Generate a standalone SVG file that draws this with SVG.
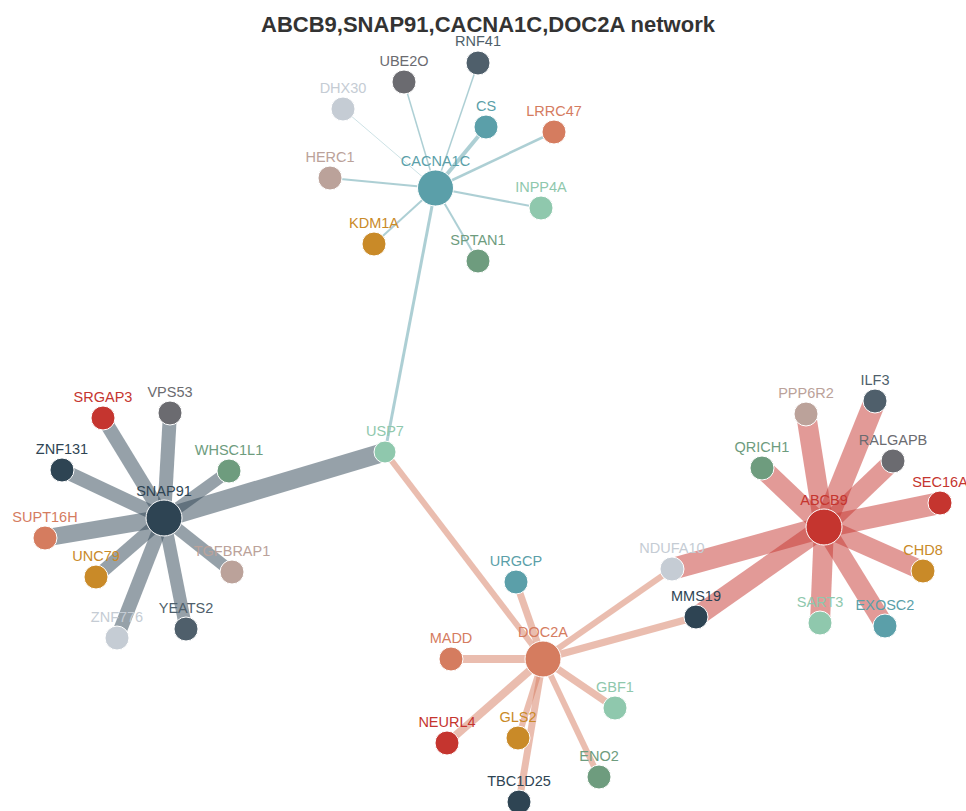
<svg xmlns="http://www.w3.org/2000/svg" width="966" height="811" viewBox="0 0 966 811">
<style>
.title{font-family:"Liberation Sans",Arial,sans-serif;font-weight:bold;font-size:22px;fill:#333333;text-anchor:middle}
line{stroke-opacity:0.5;stroke-linecap:butt}
.teal{fill:#5b9fa9;stroke:#5b9fa9}
.slate{fill:#4f5f6b;stroke:#4f5f6b}
.gray{fill:#6b6b70;stroke:#6b6b70}
.light{fill:#c5ccd4;stroke:#c5ccd4}
.orange{fill:#d57c5f;stroke:#d57c5f}
.tan{fill:#bba29a;stroke:#bba29a}
.mint{fill:#8fc8ad;stroke:#8fc8ad}
.gold{fill:#c98a28;stroke:#c98a28}
.green{fill:#6e9c7e;stroke:#6e9c7e}
.navy{fill:#2e4453;stroke:#2e4453}
.red{fill:#c5352f;stroke:#c5352f}
circle.n{stroke:#ffffff;stroke-width:1}
text.l{font-family:"Liberation Sans",Arial,sans-serif;font-size:14.5px;text-anchor:middle;stroke:none}
</style>
<rect width="966" height="811" fill="#ffffff"/>
<g id="connectors">
<line class="teal" x1="435.5" y1="188" x2="478" y2="63" stroke-width="1.5"/>
<line class="teal" x1="435.5" y1="188" x2="404" y2="82" stroke-width="1.5"/>
<line class="teal" x1="435.5" y1="188" x2="343" y2="109" stroke-width="1" style="stroke-opacity:0.3"/>
<line class="teal" x1="435.5" y1="188" x2="486" y2="127" stroke-width="4"/>
<line class="teal" x1="435.5" y1="188" x2="554" y2="132" stroke-width="2.5"/>
<line class="teal" x1="435.5" y1="188" x2="330" y2="178" stroke-width="2"/>
<line class="teal" x1="435.5" y1="188" x2="541" y2="208" stroke-width="2"/>
<line class="teal" x1="435.5" y1="188" x2="374" y2="244" stroke-width="2"/>
<line class="teal" x1="435.5" y1="188" x2="478" y2="261" stroke-width="2"/>
<line class="teal" x1="435.5" y1="188" x2="385" y2="452" stroke-width="3"/>
<line class="navy" x1="164" y1="518" x2="385" y2="452" stroke-width="19"/>
<line class="navy" x1="164" y1="518" x2="103" y2="418" stroke-width="14"/>
<line class="navy" x1="164" y1="518" x2="170" y2="413" stroke-width="14"/>
<line class="navy" x1="164" y1="518" x2="62" y2="470" stroke-width="14"/>
<line class="navy" x1="164" y1="518" x2="229" y2="471" stroke-width="12"/>
<line class="navy" x1="164" y1="518" x2="45" y2="538" stroke-width="17"/>
<line class="navy" x1="164" y1="518" x2="96" y2="577" stroke-width="13"/>
<line class="navy" x1="164" y1="518" x2="232" y2="572" stroke-width="12"/>
<line class="navy" x1="164" y1="518" x2="117" y2="638" stroke-width="14"/>
<line class="navy" x1="164" y1="518" x2="186" y2="629" stroke-width="13"/>
<line class="orange" x1="543" y1="659" x2="385" y2="452" stroke-width="6"/>
<line class="orange" x1="543" y1="659" x2="516" y2="582" stroke-width="7"/>
<line class="orange" x1="543" y1="659" x2="451" y2="659" stroke-width="8"/>
<line class="orange" x1="543" y1="659" x2="615" y2="708" stroke-width="7"/>
<line class="orange" x1="543" y1="659" x2="447" y2="743" stroke-width="8"/>
<line class="orange" x1="543" y1="659" x2="518" y2="738" stroke-width="6"/>
<line class="orange" x1="543" y1="659" x2="599" y2="777" stroke-width="6"/>
<line class="orange" x1="543" y1="659" x2="519" y2="802" stroke-width="7"/>
<line class="orange" x1="543" y1="659" x2="672" y2="569" stroke-width="6"/>
<line class="orange" x1="543" y1="659" x2="696" y2="617" stroke-width="7"/>
<line class="red" x1="824" y1="527" x2="806" y2="414" stroke-width="20"/>
<line class="red" x1="824" y1="527" x2="875" y2="401" stroke-width="22"/>
<line class="red" x1="824" y1="527" x2="762" y2="468" stroke-width="20"/>
<line class="red" x1="824" y1="527" x2="893" y2="461" stroke-width="19"/>
<line class="red" x1="824" y1="527" x2="940" y2="503" stroke-width="22"/>
<line class="red" x1="824" y1="527" x2="672" y2="569" stroke-width="22"/>
<line class="red" x1="824" y1="527" x2="923" y2="571" stroke-width="19"/>
<line class="red" x1="824" y1="527" x2="696" y2="617" stroke-width="20"/>
<line class="red" x1="824" y1="527" x2="820" y2="623" stroke-width="20"/>
<line class="red" x1="824" y1="527" x2="885" y2="626" stroke-width="19"/>
</g>
<g id="node-CACNA1C"><circle class="n teal" cx="435.5" cy="188" r="18"/><text class="l teal" x="435.5" y="166">CACNA1C</text></g>
<g id="node-RNF41"><circle class="n slate" cx="478" cy="63" r="12"/><text class="l slate" x="478" y="46">RNF41</text></g>
<g id="node-UBE2O"><circle class="n gray" cx="404" cy="82" r="12"/><text class="l gray" x="404" y="66">UBE2O</text></g>
<g id="node-DHX30"><circle class="n light" cx="343" cy="109" r="12"/><text class="l light" x="343" y="93">DHX30</text></g>
<g id="node-CS"><circle class="n teal" cx="486" cy="127" r="12"/><text class="l teal" x="486" y="111">CS</text></g>
<g id="node-LRRC47"><circle class="n orange" cx="554" cy="132" r="12"/><text class="l orange" x="554" y="116">LRRC47</text></g>
<g id="node-HERC1"><circle class="n tan" cx="330" cy="178" r="12"/><text class="l tan" x="330" y="162">HERC1</text></g>
<g id="node-INPP4A"><circle class="n mint" cx="541" cy="208" r="12"/><text class="l mint" x="541" y="192">INPP4A</text></g>
<g id="node-KDM1A"><circle class="n gold" cx="374" cy="244" r="12"/><text class="l gold" x="374" y="228">KDM1A</text></g>
<g id="node-SPTAN1"><circle class="n green" cx="478" cy="261" r="12"/><text class="l green" x="478" y="245">SPTAN1</text></g>
<g id="node-USP7"><circle class="n mint" cx="385" cy="452" r="11"/><text class="l mint" x="385" y="436">USP7</text></g>
<g id="node-SNAP91"><circle class="n navy" cx="164" cy="518" r="18"/><text class="l navy" x="164" y="496">SNAP91</text></g>
<g id="node-SRGAP3"><circle class="n red" cx="103" cy="418" r="12"/><text class="l red" x="103" y="402">SRGAP3</text></g>
<g id="node-VPS53"><circle class="n gray" cx="170" cy="413" r="12"/><text class="l gray" x="170" y="397">VPS53</text></g>
<g id="node-ZNF131"><circle class="n navy" cx="62" cy="470" r="12"/><text class="l navy" x="62" y="454">ZNF131</text></g>
<g id="node-WHSC1L1"><circle class="n green" cx="229" cy="471" r="12"/><text class="l green" x="229" y="455">WHSC1L1</text></g>
<g id="node-SUPT16H"><circle class="n orange" cx="45" cy="538" r="12"/><text class="l orange" x="45" y="522">SUPT16H</text></g>
<g id="node-UNC79"><circle class="n gold" cx="96" cy="577" r="12"/><text class="l gold" x="96" y="561">UNC79</text></g>
<g id="node-TGFBRAP1"><circle class="n tan" cx="232" cy="572" r="12"/><text class="l tan" x="232" y="556">TGFBRAP1</text></g>
<g id="node-ZNF776"><circle class="n light" cx="117" cy="638" r="12"/><text class="l light" x="117" y="622">ZNF776</text></g>
<g id="node-YEATS2"><circle class="n slate" cx="186" cy="629" r="12"/><text class="l slate" x="186" y="613">YEATS2</text></g>
<g id="node-ABCB9"><circle class="n red" cx="824" cy="527" r="18"/><text class="l red" x="824" y="505">ABCB9</text></g>
<g id="node-PPP6R2"><circle class="n tan" cx="806" cy="414" r="12"/><text class="l tan" x="806" y="398">PPP6R2</text></g>
<g id="node-ILF3"><circle class="n slate" cx="875" cy="401" r="12"/><text class="l slate" x="875" y="385">ILF3</text></g>
<g id="node-QRICH1"><circle class="n green" cx="762" cy="468" r="12"/><text class="l green" x="762" y="452">QRICH1</text></g>
<g id="node-RALGAPB"><circle class="n gray" cx="893" cy="461" r="12"/><text class="l gray" x="893" y="445">RALGAPB</text></g>
<g id="node-SEC16A"><circle class="n red" cx="940" cy="503" r="12"/><text class="l red" x="940" y="487">SEC16A</text></g>
<g id="node-NDUFA10"><circle class="n light" cx="672" cy="569" r="12"/><text class="l light" x="672" y="553">NDUFA10</text></g>
<g id="node-CHD8"><circle class="n gold" cx="923" cy="571" r="12"/><text class="l gold" x="923" y="555">CHD8</text></g>
<g id="node-MMS19"><circle class="n navy" cx="696" cy="617" r="12"/><text class="l navy" x="696" y="601">MMS19</text></g>
<g id="node-SART3"><circle class="n mint" cx="820" cy="623" r="12"/><text class="l mint" x="820" y="607">SART3</text></g>
<g id="node-EXOSC2"><circle class="n teal" cx="885" cy="626" r="12"/><text class="l teal" x="885" y="610">EXOSC2</text></g>
<g id="node-DOC2A"><circle class="n orange" cx="543" cy="659" r="18"/><text class="l orange" x="543" y="637">DOC2A</text></g>
<g id="node-URGCP"><circle class="n teal" cx="516" cy="582" r="12"/><text class="l teal" x="516" y="566">URGCP</text></g>
<g id="node-MADD"><circle class="n orange" cx="451" cy="659" r="12"/><text class="l orange" x="451" y="643">MADD</text></g>
<g id="node-GBF1"><circle class="n mint" cx="615" cy="708" r="12"/><text class="l mint" x="615" y="692">GBF1</text></g>
<g id="node-NEURL4"><circle class="n red" cx="447" cy="743" r="12"/><text class="l red" x="447" y="727">NEURL4</text></g>
<g id="node-GLS2"><circle class="n gold" cx="518" cy="738" r="12"/><text class="l gold" x="518" y="722">GLS2</text></g>
<g id="node-ENO2"><circle class="n green" cx="599" cy="777" r="12"/><text class="l green" x="599" y="761">ENO2</text></g>
<g id="node-TBC1D25"><circle class="n navy" cx="519" cy="802" r="12"/><text class="l navy" x="519" y="786">TBC1D25</text></g>
<text class="title" x="488" y="32">ABCB9,SNAP91,CACNA1C,DOC2A network</text>
</svg>
